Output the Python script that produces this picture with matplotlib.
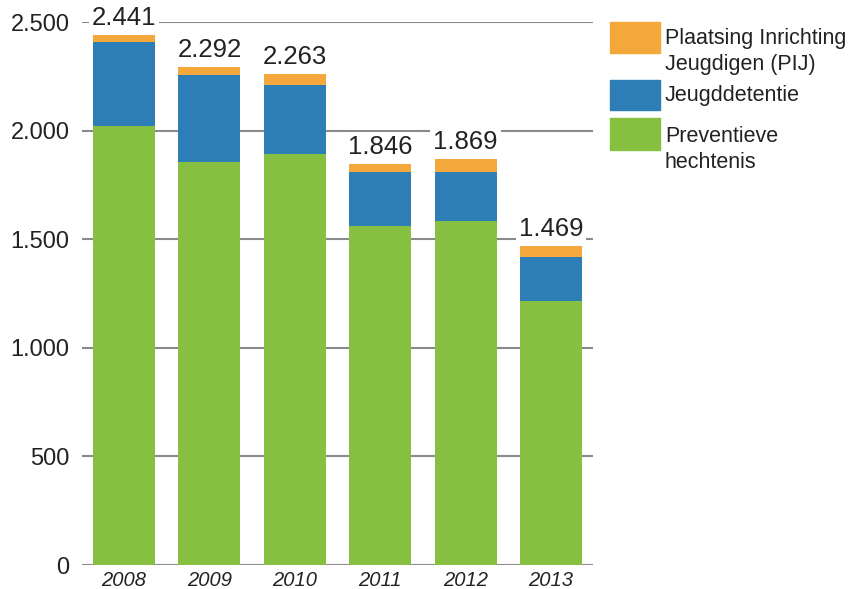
import matplotlib
matplotlib.use("Agg")
import matplotlib.pyplot as plt
from matplotlib.patches import Rectangle
import numpy as np

plt.rcParams["font.family"] = ["Liberation Sans", "DejaVu Sans"]

years = ["2008", "2009", "2010", "2011", "2012", "2013"]
preventieve = [2022, 1854, 1891, 1559, 1582, 1215]
jeugddetentie = [387, 403, 320, 249, 229, 203]
pij = [32, 35, 52, 38, 58, 51]
totals = [2441, 2292, 2263, 1846, 1869, 1469]

series = [
    ("Preventieve\nhechtenis", preventieve, "#87bf41"),
    ("Jeugddetentie", jeugddetentie, "#2d7db6"),
    ("Plaatsing Inrichting\nJeugdigen (PIJ)", pij, "#f4a73b"),
]
yticks = [0, 500, 1000, 1500, 2000, 2500]
text_col = "#222222"


def dotted(v):
    return f"{v:,}".replace(",", ".")


fig = plt.figure(figsize=(8.58, 5.89), dpi=100)
ax = fig.add_axes([0.0956, 0.0407, 0.5955, 0.9219])

x = np.arange(len(years))
bottom = np.zeros(len(years))
for label, vals, col in series:
    ax.bar(x, vals, width=0.726, bottom=bottom, color=col, zorder=3)
    bottom += np.array(vals)

for xi, t in zip(x, totals):
    ax.text(xi, t + 22, dotted(t), ha="center", va="bottom", fontsize=18.5,
            color=text_col, zorder=5, clip_on=False,
            bbox=dict(boxstyle="square,pad=0.12", fc="white", ec="none"))

ax.set_xlim(-0.492, 5.49)
ax.set_ylim(0, 2500)
ax.set_yticks(yticks)
ax.set_yticklabels([dotted(v) for v in yticks], fontsize=17, color=text_col)
ax.set_xticks(x)
ax.set_xticklabels(years, fontsize=14.5, style="italic", color=text_col)
ax.tick_params(axis="y", length=0, pad=9)
ax.tick_params(axis="x", length=0, pad=4)
ax.grid(axis="y", color="#8a8a8a", linewidth=1.5, zorder=1)
ax.set_axisbelow(True)
for s in ax.spines.values():
    s.set_visible(False)

# legend drawn by hand, patches aligned to the top of each label
W, H = 858, 589
leg = [
    (series[2][0], series[2][2], 22, 53, 28),
    (series[1][0], series[1][2], 80, 110, 85),
    (series[0][0], series[0][2], 118, 150, 126),
]
for label, col, y0, y1, ty in leg:
    fig.patches.append(Rectangle((610 / W, 1 - y1 / H), 50 / W, (y1 - y0) / H,
                                 transform=fig.transFigure, color=col))
    fig.text(665 / W, 1 - ty / H, label, fontsize=15.5, color=text_col,
             va="top", ha="left", linespacing=1.3)

fig.savefig("out.png", dpi=100)
